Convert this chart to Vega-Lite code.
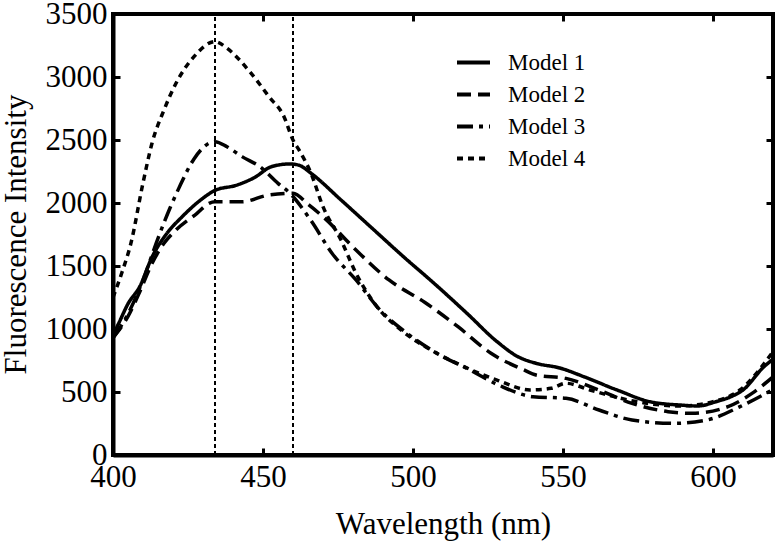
{
  "$schema": "https://vega.github.io/schema/vega-lite/v6.json",
  "width": 660,
  "height": 441,
  "autosize": {"type": "none"},
  "padding": {"left": 113, "top": 14, "right": 9, "bottom": 87},
  "background": "white",
  "config": {
    "view": {"stroke": "black", "strokeWidth": 4},
    "font": "Liberation Serif",
    "axis": {
      "grid": false,
      "domainColor": "black",
      "domainWidth": 4,
      "tickColor": "black",
      "tickWidth": 3,
      "tickSize": -7,
      "labelFlush": false,
      "labelOverlap": false,
      "labelFont": "Liberation Serif",
      "labelFontSize": 31,
      "labelColor": "black",
      "titleFont": "Liberation Serif",
      "titleFontSize": 31,
      "titleFontWeight": "normal",
      "titleColor": "black"
    },
    "legend": {
      "labelFont": "Liberation Serif",
      "labelFontSize": 23,
      "labelColor": "black"
    }
  },
  "datasets": {
    "curves": [
      {"w": 400, "v": 950, "m": "Model 1"}, {"w": 402, "v": 1050, "m": "Model 1"}, {"w": 405, "v": 1200, "m": "Model 1"}, {"w": 409, "v": 1340, "m": "Model 1"}, {"w": 413, "v": 1570, "m": "Model 1"}, {"w": 418, "v": 1760, "m": "Model 1"}, {"w": 423, "v": 1890, "m": "Model 1"}, {"w": 429, "v": 2020, "m": "Model 1"}, {"w": 434, "v": 2100, "m": "Model 1"}, {"w": 441, "v": 2140, "m": "Model 1"}, {"w": 447, "v": 2200, "m": "Model 1"}, {"w": 453, "v": 2290, "m": "Model 1"}, {"w": 459, "v": 2310, "m": "Model 1"}, {"w": 462, "v": 2300, "m": "Model 1"}, {"w": 466, "v": 2236, "m": "Model 1"}, {"w": 476, "v": 2024, "m": "Model 1"}, {"w": 487, "v": 1786, "m": "Model 1"}, {"w": 497, "v": 1570, "m": "Model 1"}, {"w": 507, "v": 1363, "m": "Model 1"}, {"w": 518, "v": 1124, "m": "Model 1"}, {"w": 528, "v": 900, "m": "Model 1"}, {"w": 535, "v": 780, "m": "Model 1"}, {"w": 541, "v": 728, "m": "Model 1"}, {"w": 549, "v": 690, "m": "Model 1"}, {"w": 557, "v": 621, "m": "Model 1"}, {"w": 568, "v": 516, "m": "Model 1"}, {"w": 579, "v": 423, "m": "Model 1"}, {"w": 590, "v": 395, "m": "Model 1"}, {"w": 595, "v": 389, "m": "Model 1"}, {"w": 601, "v": 423, "m": "Model 1"}, {"w": 606, "v": 463, "m": "Model 1"}, {"w": 610, "v": 516, "m": "Model 1"}, {"w": 617, "v": 701, "m": "Model 1"}, {"w": 620, "v": 760, "m": "Model 1"},
      {"w": 400, "v": 930, "m": "Model 2"}, {"w": 405, "v": 1100, "m": "Model 2"}, {"w": 409, "v": 1300, "m": "Model 2"}, {"w": 413, "v": 1520, "m": "Model 2"}, {"w": 417, "v": 1680, "m": "Model 2"}, {"w": 421, "v": 1786, "m": "Model 2"}, {"w": 428, "v": 1918, "m": "Model 2"}, {"w": 432, "v": 1997, "m": "Model 2"}, {"w": 434, "v": 2010, "m": "Model 2"}, {"w": 443, "v": 2010, "m": "Model 2"}, {"w": 452, "v": 2064, "m": "Model 2"}, {"w": 460, "v": 2077, "m": "Model 2"}, {"w": 465, "v": 1990, "m": "Model 2"}, {"w": 470, "v": 1891, "m": "Model 2"}, {"w": 481, "v": 1627, "m": "Model 2"}, {"w": 492, "v": 1389, "m": "Model 2"}, {"w": 504, "v": 1210, "m": "Model 2"}, {"w": 515, "v": 1018, "m": "Model 2"}, {"w": 526, "v": 807, "m": "Model 2"}, {"w": 537, "v": 675, "m": "Model 2"}, {"w": 541, "v": 635, "m": "Model 2"}, {"w": 551, "v": 608, "m": "Model 2"}, {"w": 562, "v": 516, "m": "Model 2"}, {"w": 573, "v": 410, "m": "Model 2"}, {"w": 585, "v": 344, "m": "Model 2"}, {"w": 593, "v": 331, "m": "Model 2"}, {"w": 605, "v": 384, "m": "Model 2"}, {"w": 613, "v": 489, "m": "Model 2"}, {"w": 620, "v": 620, "m": "Model 2"},
      {"w": 400, "v": 930, "m": "Model 3"}, {"w": 405, "v": 1120, "m": "Model 3"}, {"w": 410, "v": 1390, "m": "Model 3"}, {"w": 415, "v": 1720, "m": "Model 3"}, {"w": 419, "v": 1960, "m": "Model 3"}, {"w": 422, "v": 2120, "m": "Model 3"}, {"w": 427, "v": 2350, "m": "Model 3"}, {"w": 434, "v": 2487, "m": "Model 3"}, {"w": 438, "v": 2447, "m": "Model 3"}, {"w": 443, "v": 2368, "m": "Model 3"}, {"w": 449, "v": 2288, "m": "Model 3"}, {"w": 455, "v": 2156, "m": "Model 3"}, {"w": 459, "v": 2077, "m": "Model 3"}, {"w": 466, "v": 1860, "m": "Model 3"}, {"w": 473, "v": 1601, "m": "Model 3"}, {"w": 481, "v": 1389, "m": "Model 3"}, {"w": 489, "v": 1151, "m": "Model 3"}, {"w": 498, "v": 966, "m": "Model 3"}, {"w": 508, "v": 807, "m": "Model 3"}, {"w": 519, "v": 675, "m": "Model 3"}, {"w": 529, "v": 550, "m": "Model 3"}, {"w": 540, "v": 463, "m": "Model 3"}, {"w": 551, "v": 450, "m": "Model 3"}, {"w": 562, "v": 357, "m": "Model 3"}, {"w": 573, "v": 278, "m": "Model 3"}, {"w": 587, "v": 251, "m": "Model 3"}, {"w": 598, "v": 278, "m": "Model 3"}, {"w": 609, "v": 384, "m": "Model 3"}, {"w": 620, "v": 520, "m": "Model 3"},
      {"w": 400, "v": 1250, "m": "Model 4"}, {"w": 403, "v": 1450, "m": "Model 4"}, {"w": 406, "v": 1683, "m": "Model 4"}, {"w": 410, "v": 2159, "m": "Model 4"}, {"w": 413, "v": 2474, "m": "Model 4"}, {"w": 417, "v": 2738, "m": "Model 4"}, {"w": 421, "v": 2950, "m": "Model 4"}, {"w": 427, "v": 3162, "m": "Model 4"}, {"w": 434, "v": 3281, "m": "Model 4"}, {"w": 438, "v": 3228, "m": "Model 4"}, {"w": 446, "v": 3030, "m": "Model 4"}, {"w": 452, "v": 2844, "m": "Model 4"}, {"w": 457, "v": 2685, "m": "Model 4"}, {"w": 460, "v": 2500, "m": "Model 4"}, {"w": 462, "v": 2421, "m": "Model 4"}, {"w": 466, "v": 2236, "m": "Model 4"}, {"w": 470, "v": 1971, "m": "Model 4"}, {"w": 476, "v": 1706, "m": "Model 4"}, {"w": 481, "v": 1442, "m": "Model 4"}, {"w": 488, "v": 1177, "m": "Model 4"}, {"w": 496, "v": 992, "m": "Model 4"}, {"w": 506, "v": 833, "m": "Model 4"}, {"w": 517, "v": 701, "m": "Model 4"}, {"w": 528, "v": 595, "m": "Model 4"}, {"w": 539, "v": 516, "m": "Model 4"}, {"w": 546, "v": 529, "m": "Model 4"}, {"w": 551, "v": 569, "m": "Model 4"}, {"w": 559, "v": 516, "m": "Model 4"}, {"w": 567, "v": 463, "m": "Model 4"}, {"w": 578, "v": 410, "m": "Model 4"}, {"w": 589, "v": 389, "m": "Model 4"}, {"w": 600, "v": 423, "m": "Model 4"}, {"w": 609, "v": 516, "m": "Model 4"}, {"w": 620, "v": 820, "m": "Model 4"}
    ],
    "markers": [{"w": 434}, {"w": 460}]
  },
  "layer": [
    {
      "data": {"name": "curves"},
      "mark": {"type": "line", "color": "black", "strokeWidth": 3.5, "interpolate": "monotone", "clip": true},
      "encoding": {
        "x": {
          "field": "w", "type": "quantitative",
          "scale": {"domain": [400, 620], "nice": false, "zero": false},
          "axis": {"orient": "bottom", "values": [400, 450, 500, 550, 600], "format": "d", "title": "Wavelength (nm)",
                   "labelFont": "Liberation Serif", "labelFontSize": 31, "labelFlush": false,
                   "labelPadding": 14, "titleX": 330, "titleY": 78, "titleBaseline": "alphabetic"}
        },
        "y": {
          "field": "v", "type": "quantitative",
          "scale": {"domain": [0, 3500], "nice": false},
          "axis": {"orient": "left", "values": [0, 500, 1000, 1500, 2000, 2500, 3000, 3500], "format": "d", "title": "Fluorescence Intensity",
                   "labelFont": "Liberation Serif", "labelFontSize": 31, "labelFlush": false,
                   "labelPadding": 13, "titleX": -97, "titleY": 220, "titleAngle": -90, "titleBaseline": "middle", "titleAlign": "center"}
        },
        "strokeDash": {
          "field": "m", "type": "nominal",
          "scale": {"domain": ["Model 1", "Model 2", "Model 3", "Model 4"], "range": [[1, 0], [14, 7], [16, 6, 4, 6], [6, 5]]},
          "legend": {
            "title": null, "orient": "none", "legendX": 342, "legendY": 30,
            "symbolType": "stroke", "symbolSize": 1089, "symbolStrokeWidth": 4, "symbolStrokeColor": "black",
            "labelFont": "Liberation Serif", "labelFontSize": 23,
            "labelOffset": 16, "rowPadding": 1
          }
        }
      }
    },
    {
      "data": {"name": "markers"},
      "mark": {"type": "rule", "color": "black", "strokeWidth": 2, "strokeDash": [4, 3]},
      "encoding": {
        "x": {"field": "w", "type": "quantitative",
              "axis": {"orient": "top", "values": [450, 500, 550, 600], "labels": false, "title": null, "domain": false}},
        "y": {"datum": 0, "type": "quantitative",
              "axis": {"orient": "right", "values": [500, 1000, 1500, 2000, 2500, 3000], "labels": false, "title": null, "domain": false}},
        "y2": {"datum": 3500}
      }
    }
  ],
  "resolve": {"axis": {"x": "independent", "y": "independent"}}
}
